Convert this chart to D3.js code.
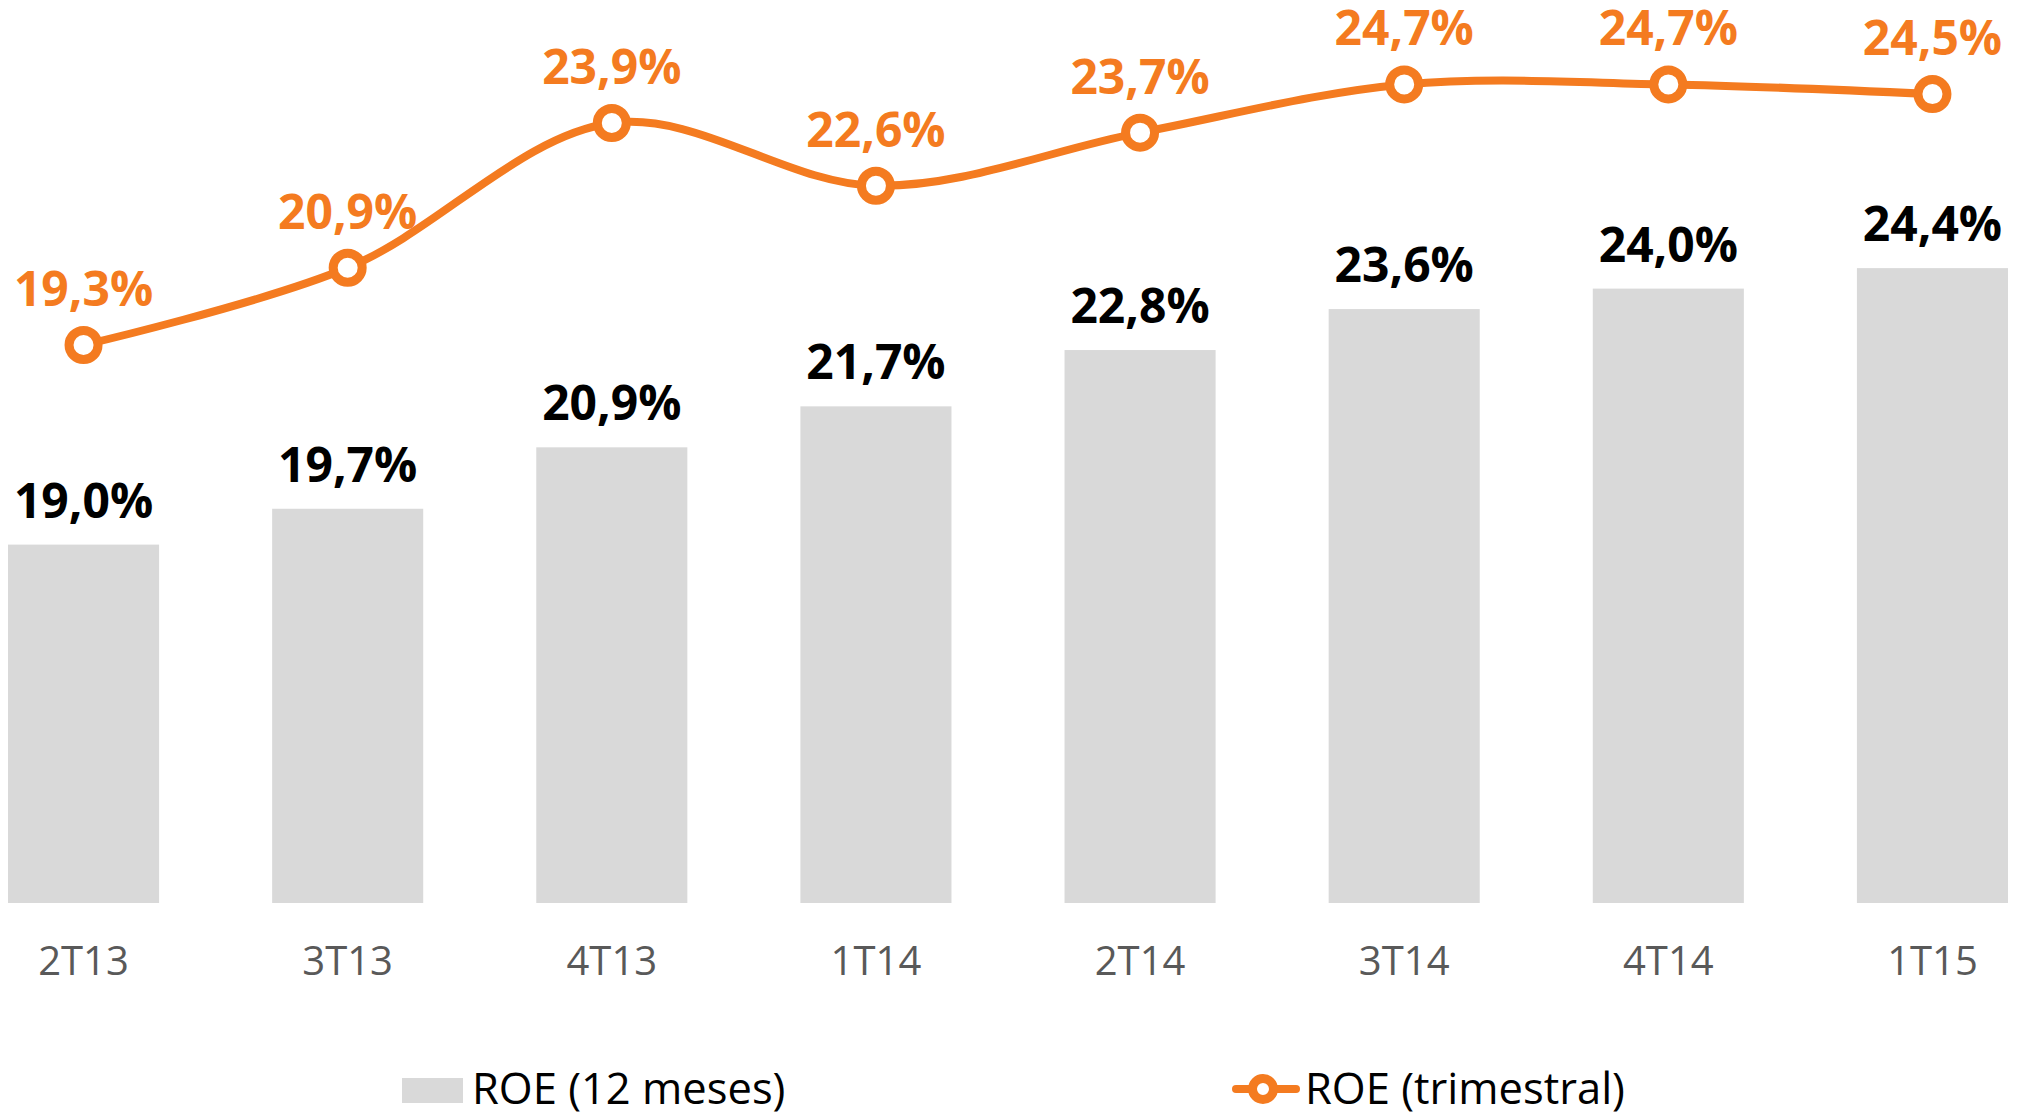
<!DOCTYPE html>
<html>
<head>
<meta charset="utf-8">
<script src="https://cdn.jsdelivr.net/npm/d3@7"></script>
<style>
  body { margin: 0; background: #fff; }
  svg { display: block; font-family: "Open Sans", "Noto Sans", sans-serif; }
</style>
</head>
<body>
<div id="chart"></div>
<script>
// data
const quarters = ["2T13", "3T13", "4T13", "1T14", "2T14", "3T14", "4T14", "1T15"];
const roe12m = [19.0, 19.7, 20.9, 21.7, 22.8, 23.6, 24.0, 24.4];
const roeTrim = [19.3, 20.9, 23.9, 22.6, 23.7, 24.7, 24.7, 24.5];
const legendLabels = ["ROE (12 meses)", "ROE (trimestral)"];

const width = 2029, height = 1116;
const orange = "#f47b20", grey = "#d9d9d9";

const fmt = v => d3.format(".1f")(v).replace(".", ",") + "%";

const svg = d3.select("#chart")
  .append("svg")
  .attr("width", width)
  .attr("height", height);

// X scale
const x = d3.scaleBand()
  .domain(quarters)
  .range([8, 2008])
  .paddingInner(0.428)
  .paddingOuter(0);

// bars use their own scale, the line a secondary one
const y = d3.scaleLinear().domain([12, 25]).range([903, 237.4]);
const y2 = d3.scaleLinear().domain([18, 26]).range([407.7, 21.7]);

// Bars
svg.append("g")
  .selectAll("rect")
  .data(roe12m)
  .join("rect")
  .attr("x", (d, i) => x(quarters[i]))
  .attr("y", d => y(d))
  .attr("width", x.bandwidth())
  .attr("height", d => y(12) - y(d))
  .style("fill", grey);

// Bar labels
svg.append("g")
  .selectAll("text")
  .data(roe12m)
  .join("text")
  .attr("x", (d, i) => x(quarters[i]) + x.bandwidth() / 2)
  .attr("y", d => y(d) - 27)
  .attr("text-anchor", "middle")
  .style("font-size", "48px")
  .style("font-weight", "bold")
  .style("fill", "#000")
  .text(fmt);

// X axis
const xAxis = svg.append("g")
  .attr("transform", "translate(0, 903)")
  .call(d3.axisBottom(x).tickSize(0));
xAxis.select(".domain").remove();
xAxis.selectAll("text")
  .attr("y", 72)
  .attr("dy", 0)
  .style("font-family", "'Open Sans', sans-serif")
  .style("font-size", "40px")
  .style("fill", "#595959");

// Line
const line = d3.line()
  .x((d, i) => x(quarters[i]) + x.bandwidth() / 2)
  .y(d => y2(d))
  .curve(d3.curveCatmullRom.alpha(0.5));

svg.append("path")
  .datum(roeTrim)
  .attr("d", line)
  .style("fill", "none")
  .style("stroke", orange)
  .style("stroke-width", 8);

svg.append("g")
  .selectAll("circle")
  .data(roeTrim)
  .join("circle")
  .attr("cx", (d, i) => x(quarters[i]) + x.bandwidth() / 2)
  .attr("cy", d => y2(d))
  .attr("r", 14.5)
  .style("fill", "#fff")
  .style("stroke", orange)
  .style("stroke-width", 9);

svg.append("g")
  .selectAll("text")
  .data(roeTrim)
  .join("text")
  .attr("x", (d, i) => x(quarters[i]) + x.bandwidth() / 2)
  .attr("y", d => y2(d) - 39)
  .attr("text-anchor", "middle")
  .style("font-size", "48px")
  .style("font-weight", "bold")
  .style("fill", orange)
  .text(fmt);

// Legend
const legend = svg.append("g");
legend.append("rect")
  .attr("x", 402).attr("y", 1078)
  .attr("width", 61).attr("height", 25)
  .style("fill", grey);
legend.append("text")
  .attr("x", 472).attr("y", 1104)
  .style("font-size", "43.5px")
  .style("fill", "#000")
  .text(legendLabels[0]);

legend.append("line")
  .attr("x1", 1236).attr("x2", 1296)
  .attr("y1", 1089).attr("y2", 1089)
  .style("stroke", orange)
  .style("stroke-width", 8)
  .style("stroke-linecap", "round");
legend.append("circle")
  .attr("cx", 1263).attr("cy", 1089).attr("r", 10.5)
  .style("fill", "#fff")
  .style("stroke", orange)
  .style("stroke-width", 9);
legend.append("text")
  .attr("x", 1305).attr("y", 1104)
  .style("font-size", "43.5px")
  .style("fill", "#000")
  .text(legendLabels[1]);
</script>
</body>
</html>
